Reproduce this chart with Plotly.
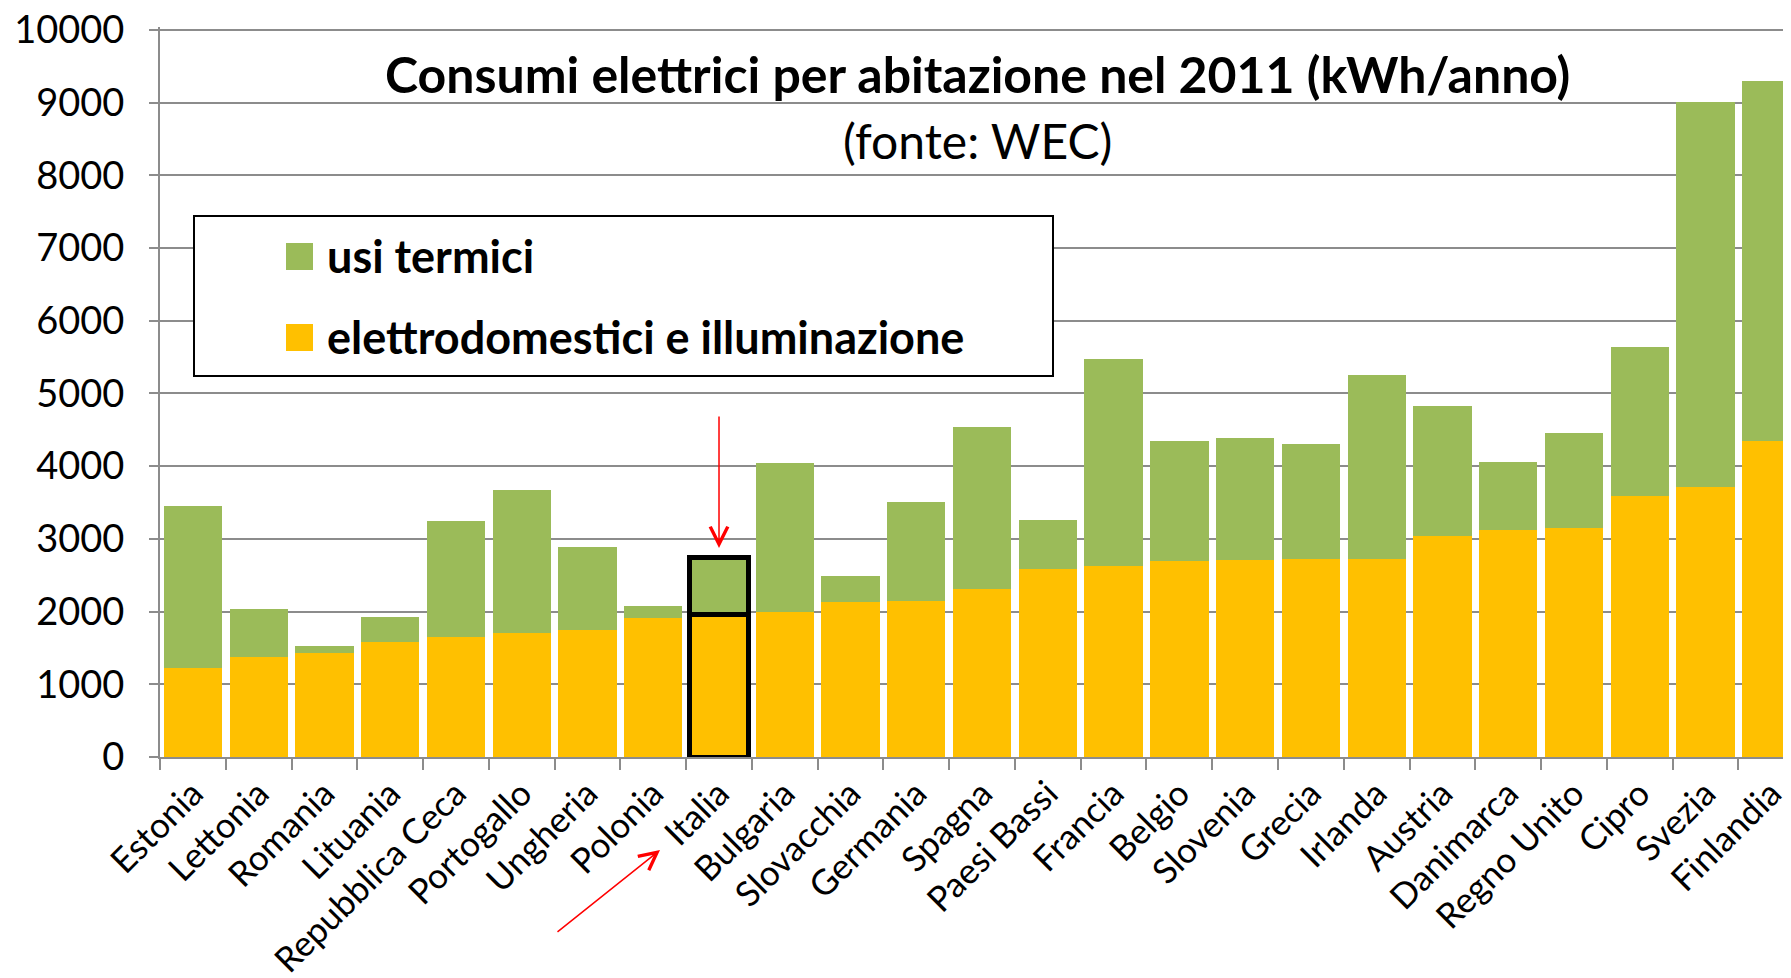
import plotly.graph_objects as go

# Data (kWh/anno per abitazione, 2011)
paesi = ["Estonia", "Lettonia", "Romania", "Lituania", "Repubblica Ceca", "Portogallo",
         "Ungheria", "Polonia", "Italia", "Bulgaria", "Slovacchia", "Germania", "Spagna",
         "Paesi Bassi", "Francia", "Belgio", "Slovenia", "Grecia", "Irlanda", "Austria",
         "Danimarca", "Regno Unito", "Cipro", "Svezia", "Finlandia"]
elettrodomestici = [1223, 1370, 1425, 1584, 1644, 1703, 1753, 1918, 1960, 2000, 2128, 2144, 2315,
                    2589, 2630, 2699, 2712, 2726, 2728, 3037, 3123, 3146, 3589, 3712, 4350]
usi_termici = [2233, 667, 96, 348, 1598, 1968, 1137, 164, 784, 2046, 356, 1363, 2228,
               676, 2849, 1648, 1672, 1585, 2528, 1785, 936, 1306, 2047, 5297, 4950]
y_ticks = [0, 1000, 2000, 3000, 4000, 5000, 6000, 7000, 8000, 9000, 10000]

GREEN = "#9BBB59"
YELLOW = "#FFC000"
GRID = "#8c8c8c"
FONT = "Lato, Open Sans, sans-serif"

# Page geometry (pixels). The page body has an 8px margin, so the figure is
# shrunk by that much and the positions below are given in page pixels.
OFF = 8
W, H = 1791 - OFF, 978 - OFF
ML, MR, MT, MB = 152, 0, 19, 221
PW, PH = W - ML - MR, H - MT - MB


def px(x):
    return (x - OFF - ML) / PW


def py(y):
    return (H - MB - (y - OFF)) / PH


# highlight Italia with a thick black outline
evid = "Italia"
line_w = [5 if p == evid else 0 for p in paesi]

fig = go.Figure()
fig.add_trace(go.Bar(x=paesi, y=elettrodomestici, name="elettrodomestici e illuminazione",
                     marker=dict(color=YELLOW, line=dict(color="black", width=line_w))))
fig.add_trace(go.Bar(x=paesi, y=usi_termici, name="usi termici",
                     marker=dict(color=GREEN, line=dict(color="black", width=line_w))))

fig.update_layout(
    barmode="stack",
    bargap=0.114,
    width=W, height=H,
    margin=dict(l=ML, r=MR, t=MT, b=MB, autoexpand=False),
    plot_bgcolor="white",
    paper_bgcolor="white",
    showlegend=False,
    font=dict(family=FONT, color="black"),
)

# range a bit above 10000 so the top gridline is kept
fig.update_yaxes(
    range=[0, 10040], tickvals=y_ticks, ticktext=[str(v) for v in y_ticks],
    showgrid=True, gridcolor=GRID, gridwidth=2,
    showline=True, linecolor=GRID, linewidth=2,
    ticks="outside", ticklen=9, tickcolor=GRID, tickwidth=2,
    tickfont=dict(size=38, family=FONT, color="black"),
    ticklabelstandoff=17,
    ticklabeloverflow="allow",
    zeroline=False,
)
fig.update_xaxes(
    range=[-0.5, 24.3],
    showgrid=False,
    showline=True, linecolor=GRID, linewidth=2,
    ticks="outside", tickson="boundaries", ticklen=11, tickcolor=GRID, tickwidth=2,
    tickangle=-45,
    tickfont=dict(size=35, family=FONT, color="black"),
)

# Title and subtitle
fig.add_annotation(x=px(977), y=py(74), xref="paper", yref="paper",
                   text="<b>Consumi elettrici per abitazione nel 2011 (kWh/anno)</b>",
                   showarrow=False, xanchor="center", yanchor="middle",
                   font=dict(size=50, family=FONT, color="black"))
fig.add_annotation(x=px(977), y=py(140), xref="paper", yref="paper",
                   text="(fonte: WEC)",
                   showarrow=False, xanchor="center", yanchor="middle",
                   font=dict(size=48, family=FONT, color="black"))

# Legend box drawn by hand
fig.add_shape(type="rect", xref="paper", yref="paper",
              x0=px(194), x1=px(1053), y0=py(376), y1=py(216),
              line=dict(color="black", width=2), fillcolor="white", layer="above")
fig.add_shape(type="rect", xref="paper", yref="paper",
              x0=px(286), x1=px(313), y0=py(270), y1=py(243),
              line=dict(width=0), fillcolor=GREEN, layer="above")
fig.add_shape(type="rect", xref="paper", yref="paper",
              x0=px(286), x1=px(313), y0=py(351), y1=py(324),
              line=dict(width=0), fillcolor=YELLOW, layer="above")
fig.add_annotation(x=px(325), y=py(256), xref="paper", yref="paper",
                   text="<b>usi termici</b>", showarrow=False,
                   xanchor="left", yanchor="middle",
                   font=dict(size=45, family=FONT, color="black"))
fig.add_annotation(x=px(325), y=py(337), xref="paper", yref="paper",
                   text="<b>elettrodomestici e illuminazione</b>", showarrow=False,
                   xanchor="left", yanchor="middle",
                   font=dict(size=45, family=FONT, color="black"))

# Red arrows pointing at Italia
fig.add_annotation(x=evid, y=2875, xref="x", yref="y", text="",
                   showarrow=True, ax=0, ay=-133,
                   arrowhead=5, arrowsize=2.3, arrowwidth=1.5, arrowcolor="red")
fig.add_annotation(x=px(660), y=py(850), xref="paper", yref="paper", text="",
                   showarrow=True, ax=-104, ay=83,
                   arrowhead=5, arrowsize=2.3, arrowwidth=1.5, arrowcolor="red")

fig.write_html("out.html")
